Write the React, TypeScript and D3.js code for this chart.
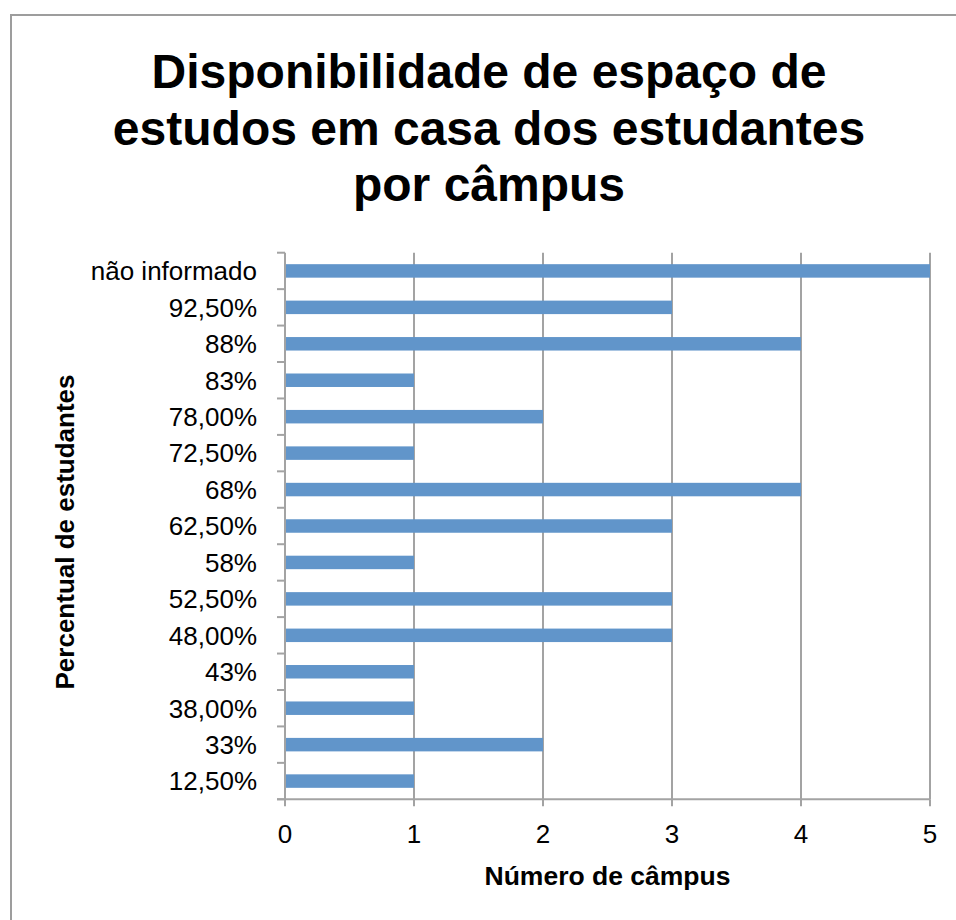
import React from "react";
import * as d3 from "d3";

const categories = [
  "não informado", "92,50%", "88%", "83%", "78,00%", "72,50%", "68%", "62,50%",
  "58%", "52,50%", "48,00%", "43%", "38,00%", "33%", "12,50%",
];
const values = [5, 3, 4, 1, 2, 1, 4, 3, 1, 3, 3, 1, 1, 2, 1];
const xTicks = [0, 1, 2, 3, 4, 5];
const titleLines = ["Disponibilidade de espaço de", "estudos em casa dos estudantes", "por câmpus"];
const xTitle = "Número de câmpus";
const yTitle = "Percentual de estudantes";

const W = 956, H = 920;
const left = 285, right = 930, top = 252.7, bottom = 799.3;
const FONT = "'Liberation Sans', Arial, Helvetica, sans-serif";
const GRID = "#a3a3a3";
const BAR = "#6195ca";

export default function App() {
  const x = d3.scaleLinear().domain([0, 5]).range([left, right]);
  const y = d3.scaleBand<string>().domain(categories).range([top, bottom]).paddingInner(0.63).paddingOuter(0.315);
  const yb = d3.scaleLinear().domain([0, categories.length]).range([top, bottom]);
  const boundaries = d3.range(categories.length + 1);
  const cx = 489;
  return (
    <svg width={W} height={H} style={{ position: "absolute", left: 0, top: 0, display: "block", background: "#fff" }}>
      <rect x={0} y={0} width={W} height={H} fill="#fff" />
      <path d={`M11,${H + 5} L11,15 L${W + 5},15`} fill="none" stroke="#9d9d9d" strokeWidth={2} />
      {titleLines.map((t, i) => (
        <text key={i} x={cx} y={88 + i * 56.5} textAnchor="middle" fontFamily={FONT} fontWeight="bold" fontSize={48} fill="#000">{t}</text>
      ))}
      {xTicks.slice(1).map((t) => (
        <line key={t} x1={x(t)} x2={x(t)} y1={top} y2={bottom} stroke={GRID} strokeWidth={2} />
      ))}
      {categories.map((c, i) => (
        <rect key={c} x={x(0)} y={y(c)} width={x(values[i]) - x(0)} height={y.bandwidth()} fill={BAR} />
      ))}
      <line x1={left} x2={left} y1={top} y2={bottom} stroke={GRID} strokeWidth={2} />
      {boundaries.map((b) => (
        <line key={b} x1={left - 8} x2={left} y1={yb(b)} y2={yb(b)} stroke={GRID} strokeWidth={2} />
      ))}
      {categories.map((c) => (
        <text key={c} x={257} y={(y(c) as number) + y.bandwidth() / 2} dy="0.36em" textAnchor="end" fontFamily={FONT} fontSize={26} fill="#000">{c}</text>
      ))}
      <line x1={left - 8} x2={right} y1={bottom} y2={bottom} stroke={GRID} strokeWidth={2} />
      {xTicks.map((t) => (
        <g key={t}>
          <line x1={x(t)} x2={x(t)} y1={bottom} y2={bottom + 7} stroke={GRID} strokeWidth={2} />
          <text x={x(t)} y={843} textAnchor="middle" fontFamily={FONT} fontSize={26} fill="#000">{t}</text>
        </g>
      ))}
      <text x={(left + right) / 2} y={885} textAnchor="middle" fontFamily={FONT} fontWeight="bold" fontSize={26.5} fill="#000">{xTitle}</text>
      <text transform={`translate(74,${(top + bottom) / 2 + 6}) rotate(-90)`} textAnchor="middle" fontFamily={FONT} fontWeight="bold" fontSize={26} fill="#000">{yTitle}</text>
    </svg>
  );
}
